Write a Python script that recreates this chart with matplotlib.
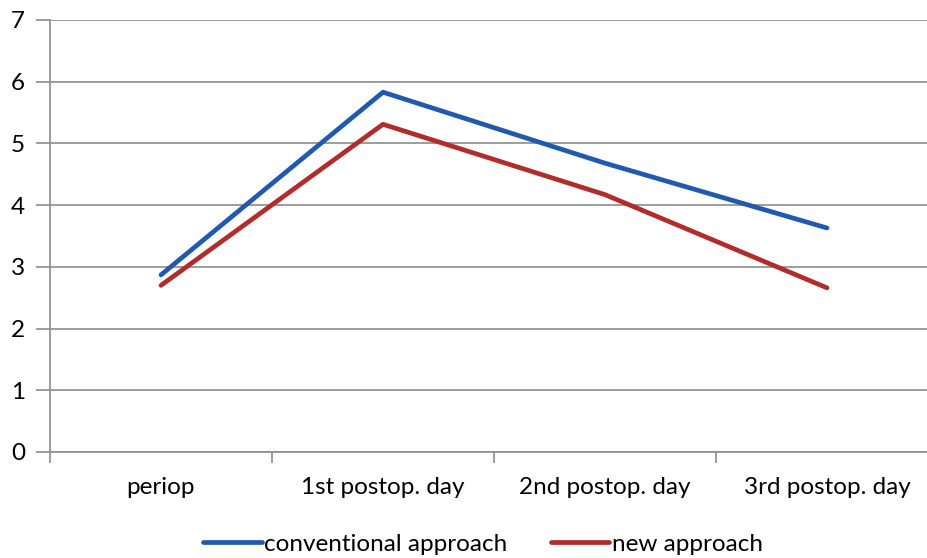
import matplotlib
matplotlib.use('Agg')
import matplotlib.pyplot as plt

# data
categories = ['periop', '1st postop. day', '2nd postop. day', '3rd postop. day']
conventional = [2.87, 5.83, 4.68, 3.63]
new_approach = [2.70, 5.31, 4.17, 2.66]
y_ticks = [0, 1, 2, 3, 4, 5, 6, 7]

plt.rcParams['font.family'] = ['Lato', 'DejaVu Sans']

fig = plt.figure(figsize=(9.28, 5.58), dpi=100)
# plot area runs off the right edge like in the reference
ax = fig.add_axes([50 / 928, 1 - 452 / 558, 888 / 928, 432 / 558])

x = range(len(categories))
ax.plot(x, conventional, color='#2159AE', lw=3.4, solid_capstyle='round',
        label='conventional approach', zorder=3)
ax.plot(x, new_approach, color='#B02D2B', lw=3.4, solid_capstyle='round',
        label='new approach', zorder=3)

ax.set_xlim(-0.5, len(categories) - 0.5)
ax.set_ylim(0, 7)
ax.set_yticks(y_ticks)
ax.grid(axis='y', color='#8c8c8c', lw=1.2)
ax.set_axisbelow(True)

# category tick marks sit between the categories
ax.set_xticks([i - 0.5 for i in range(len(categories) + 1)])
ax.set_xticklabels([])
ax.set_xticks(list(x), minor=True)
ax.set_xticklabels(categories, minor=True, fontsize=17.5)
ax.tick_params(axis='x', which='major', length=8, width=1.2, color='#8c8c8c', direction='out')
ax.tick_params(axis='x', which='minor', length=0, pad=18)
ax.tick_params(axis='y', length=10, width=1.2, color='#8c8c8c', labelsize=17.5, pad=8)

for side in ['top', 'right']:
    ax.spines[side].set_visible(False)
for side in ['left', 'bottom']:
    ax.spines[side].set_color('#8c8c8c')
    ax.spines[side].set_linewidth(1.2)

fig.legend(loc='center', bbox_to_anchor=(483 / 928, 1 - 544 / 558), ncol=2,
           frameon=False, fontsize=17.5, handlelength=2.4, handletextpad=0.1,
           columnspacing=1.8)

fig.savefig('out.png', dpi=100)
